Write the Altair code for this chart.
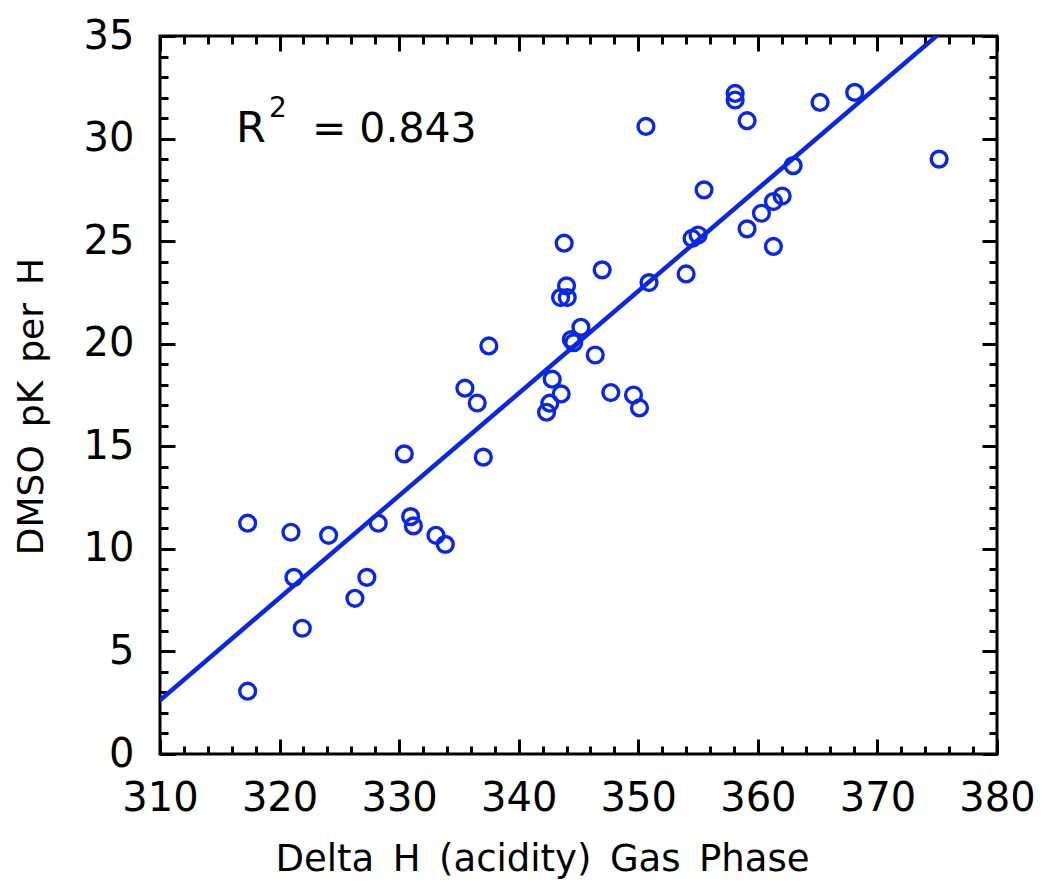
import altair as alt
import pandas as pd

# Gas-phase acidity (Delta H) vs DMSO pK per H
delta_h = [317.33, 317.33, 320.95, 321.2, 321.9, 324.1, 326.3, 327.3, 328.25, 330.43,
           330.96, 331.19, 333.08, 333.86, 335.5, 336.53, 337.04, 337.5, 342.33, 342.6,
           342.8, 343.55, 343.8, 344.0, 343.5, 344.06, 344.4, 344.6, 345.2, 346.4,
           346.98, 347.7, 349.6, 350.1, 350.64, 350.9, 354.0, 354.5, 355.0, 355.5,
           358.1, 358.1, 359.1, 359.1, 360.3, 361.3, 362.03, 361.3, 362.95, 365.2,
           368.1, 375.16]
pk_dmso = [11.25, 3.06, 10.81, 8.61, 6.13, 10.66, 7.59, 8.61, 11.25, 14.63,
           11.57, 11.12, 10.66, 10.22, 17.83, 17.11, 14.47, 19.89, 16.66, 17.1,
           18.27, 17.55, 24.9, 22.82, 22.25, 22.25, 20.2, 20.05, 20.8, 19.45,
           23.6, 17.62, 17.5, 16.87, 30.59, 22.98, 23.4, 25.13, 25.3, 27.5,
           32.2, 31.88, 30.87, 25.6, 26.36, 26.93, 27.2, 24.74, 28.68, 31.76,
           32.25, 29.0]

x_major = list(range(310, 381, 10))
x_minor = list(range(310, 381, 2))
y_major = list(range(0, 36, 5))
y_minor = list(range(0, 36, 1))

r2_label = ["R", "2", "= 0.843"]
r2_anchor_x = [316.35]
r2_anchor_y = [29.84]

x_title = "Delta\u2002H\u2002(acidity)\u2002Gas\u2002Phase"
y_title = "DMSO\u2002pK\u2002per\u2002H"

BLUE = "#0A28E3"
FONT = "DejaVu Sans"

df = pd.DataFrame({"dh": delta_h, "pk": pk_dmso})
anchor = pd.DataFrame({"ax": r2_anchor_x, "ay": r2_anchor_y})

xs = alt.Scale(domain=[310, 380], nice=False, zero=False)
ys = alt.Scale(domain=[0, 35], nice=False, zero=False)


def tick_axis(orient, values, size):
    return alt.Axis(orient=orient, values=values, tickSize=size, offset=-size,
                    labels=False, domain=False, grid=False, title=None,
                    ticks=True, tickColor="black", tickWidth=3)


label_x_axis = alt.Axis(orient="bottom", values=x_major, ticks=False, domain=False,
                        grid=False, format="d", labelPadding=24, labelFontSize=40,
                        labelFont=FONT, labelColor="black", labelBaseline="top",
                        labelFlush=False, labelOverlap=False, labelBound=False,
                        title=x_title, titleFont=FONT, titleFontSize=37,
                        titleFontWeight="normal", titleColor="black",
                        titleX=382, titleY=116, titleBaseline="alphabetic",
                        titleAlign="center")
label_y_axis = alt.Axis(orient="left", values=y_major, ticks=False, domain=False,
                        grid=False, format="d", labelPadding=26, labelFontSize=40,
                        labelFont=FONT, labelColor="black",
                        labelFlush=False, labelOverlap=False, labelBound=False,
                        title=y_title, titleFont=FONT, titleFontSize=36,
                        titleFontWeight="normal", titleColor="black",
                        titleX=-118, titleY=370, titleAngle=270,
                        titleBaseline="alphabetic", titleAlign="center")

base = alt.Chart(df)

points = base.mark_point(shape="circle", filled=False, size=250, strokeWidth=3.4,
                         color=BLUE, opacity=1).encode(
    x=alt.X("dh:Q", scale=xs, axis=label_x_axis),
    y=alt.Y("pk:Q", scale=ys, axis=label_y_axis),
)

fit = base.transform_regression("dh", "pk", extent=[310, 380]).mark_line(
    color=BLUE, strokeWidth=4.5, clip=True).encode(
    x=alt.X("dh:Q", scale=xs, axis=tick_axis("bottom", x_major, 15)),
    y=alt.Y("pk:Q", scale=ys, axis=tick_axis("left", y_major, 15)),
)


def ghost(xaxis, yaxis):
    return base.mark_point(opacity=0).encode(
        x=alt.X("dh:Q", scale=xs, axis=xaxis),
        y=alt.Y("pk:Q", scale=ys, axis=yaxis),
    )


g1 = ghost(tick_axis("bottom", x_minor, 8), tick_axis("left", y_minor, 8))
g2 = ghost(tick_axis("top", x_major, 15), tick_axis("right", y_major, 15))
g3 = ghost(tick_axis("top", x_minor, 8), tick_axis("right", y_minor, 8))

abase = alt.Chart(anchor)
enc = dict(x=alt.X("ax:Q", scale=xs, axis=None), y=alt.Y("ay:Q", scale=ys, axis=None))
t_r = abase.mark_text(text=r2_label[0], font=FONT, fontSize=43, align="left",
                      baseline="alphabetic", color="black").encode(**enc)
t_2 = abase.mark_text(text=r2_label[1], font=FONT, fontSize=28, align="left",
                      baseline="alphabetic", color="black", dx=33, dy=-25).encode(**enc)
t_eq = abase.mark_text(text=r2_label[2], font=FONT, fontSize=41, align="left",
                       baseline="alphabetic", color="black", dx=76).encode(**enc)

chart = alt.layer(points, fit, g1, g2, g3, t_r, t_2, t_eq).resolve_axis(
    x="independent", y="independent"
).properties(
    width=837, height=718,
    autosize=alt.AutoSizeParams(type="none"),
    padding={"left": 152, "top": 28, "right": 45, "bottom": 125},
    background="white",
).configure_view(stroke="black", strokeWidth=3)

chart.save("out.html", embed_options={"renderer": "svg", "actions": False})
